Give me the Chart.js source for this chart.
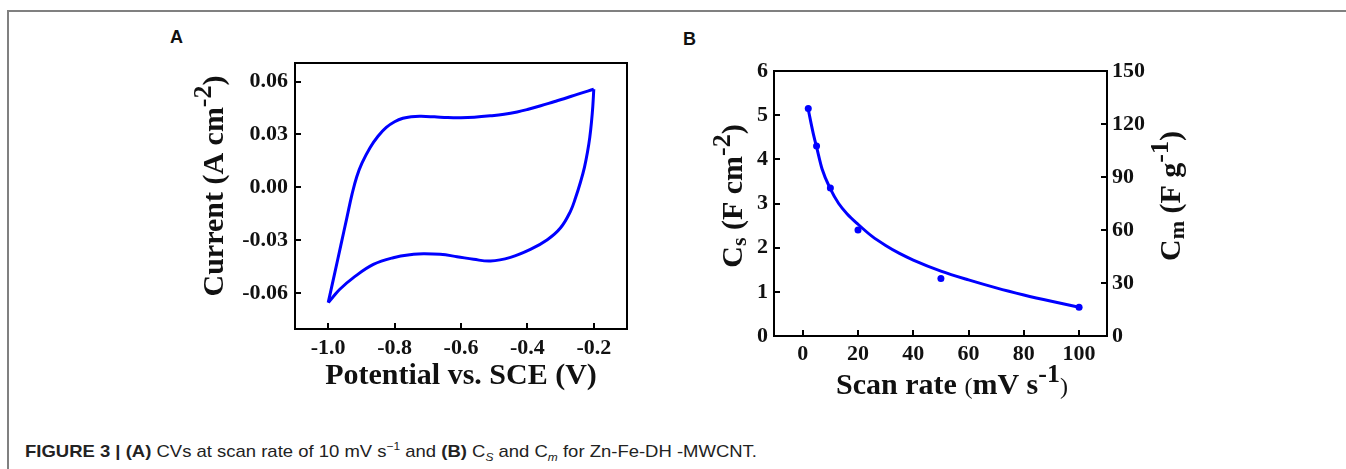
<!DOCTYPE html>
<html>
<head>
<meta charset="utf-8">
<script src="https://cdn.jsdelivr.net/npm/chart.js@4.4.1/dist/chart.umd.min.js"></script>
<style>
  html, body { margin:0; padding:0; background:#fff; }
  body { width:1346px; height:469px; position:relative; overflow:hidden; }
  #frame { position:absolute; left:7px; top:10px; width:1400px; height:500px;
           border-top:2px solid #808080; border-left:2px solid #808080; }
  .plab { position:absolute; font:bold 18px 'Liberation Sans', Arial, sans-serif; line-height:18px; color:#111; }
  #cvA { position:absolute; left:160px; top:40px; }
  #cvB { position:absolute; left:680px; top:40px; }
  #cap { position:absolute; left:25px; top:443px; white-space:nowrap; transform-origin:0 0;
         font:17px 'Liberation Sans Narrow', 'Liberation Sans', Arial, sans-serif; line-height:17px; color:#222; }
  #cap sup, #cap sub { font-size:11px; line-height:0; }
</style>
</head>
<body>
<div id="frame"></div>
<div class="plab" style="left:170px;top:28px;">A</div>
<div class="plab" style="left:683px;top:30px;">B</div>
<canvas id="cvA" width="480" height="360"></canvas>
<canvas id="cvB" width="520" height="370"></canvas>
<div id="cap"><b>FIGURE 3 | (A)</b> CVs at scan rate of 10 mV s<sup>−1</sup> and <b>(B)</b> C<sub><i>S</i></sub> and C<sub><i>m</i></sub> for Zn-Fe-DH -MWCNT.</div>
<script>
// ---------- Panel A data (cyclic voltammogram) ----------
const anodicV = [-1.000,-0.980,-0.962,-0.944,-0.928,-0.914,-0.898,-0.874,-0.850,-0.825,-0.800,-0.775,-0.750,-0.720,-0.680,-0.640,-0.600,-0.560,-0.511,-0.470,-0.431,-0.400,-0.360,-0.320,-0.290,-0.250,-0.200];
const anodicI = [-0.0655,-0.0485,-0.0330,-0.0175,-0.0038,0.0060,0.0138,0.0225,0.0290,0.0340,0.0372,0.0392,0.0401,0.0403,0.0400,0.0396,0.0395,0.0398,0.0406,0.0415,0.0428,0.0442,0.0463,0.0486,0.0503,0.0528,0.0557];
const cathodicV = [-0.200,-0.203,-0.207,-0.212,-0.219,-0.228,-0.240,-0.255,-0.270,-0.300,-0.340,-0.391,-0.451,-0.511,-0.562,-0.612,-0.663,-0.713,-0.743,-0.804,-0.864,-0.924,-0.965,-0.985,-1.000];
const cathodicI = [0.0557,0.0460,0.0370,0.0285,0.0200,0.0115,0.0030,-0.0060,-0.0135,-0.0230,-0.0298,-0.0353,-0.0398,-0.0419,-0.0409,-0.0394,-0.0381,-0.0378,-0.0381,-0.0400,-0.0438,-0.0513,-0.0579,-0.0622,-0.0655];
const cvXTicks = [-1.0,-0.8,-0.6,-0.4,-0.2];
const cvXTickLabels = ['-1.0','-0.8','-0.6','-0.4','-0.2'];
const cvYTicks = [-0.06,-0.03,0,0.03,0.06];
const cvYTickLabels = ['-0.06','-0.03','0.00','0.03','0.06'];
const cvXTitle = [['Potential vs. SCE (V)','']];
const cvYTitle = [['Current (A cm',''],['-2','sup'],[')','']];

// ---------- Panel B data ----------
const scanRate = [2,5,10,20,50,100];
const csValues = [5.15,4.30,3.35,2.40,1.30,0.65];
const fitRate = [2,3,4,5,7,10,13,16,20,25,30,35,40,50,60,70,80,90,100];
const fitCs = [5.13,4.82,4.53,4.28,3.78,3.33,3.00,2.77,2.53,2.26,2.05,1.87,1.72,1.47,1.27,1.09,0.93,0.785,0.65];
const rateTicks = [0,20,40,60,80,100];
const rateTickLabels = ['0','20','40','60','80','100'];
const csTicks = [0,1,2,3,4,5,6];
const csTickLabels = ['0','1','2','3','4','5','6'];
const cmTicks = [0,30,60,90,120,150];
const cmTickLabels = ['0','30','60','90','120','150'];
const rateTitle = [['Scan rate ',''],['(','small'],['mV s',''],['-1','sup'],[')','small']];
const csTitle = [['C',''],['s','sub'],[' (F cm',''],['-2','sup'],[')','']];
const cmTitle = [['C',''],['m','sub'],[' (F g',''],['-1','sup'],[')','']];

const BLUE = '#0000ff';
const SERIF = "'Liberation Serif', 'Times New Roman', serif";

function zip(xs, ys){ return xs.map((x,i)=>({x:x, y:ys[i]})); }

const frameTicks = {
  id:'frameTicks',
  afterDraw(chart){
    const ctx = chart.ctx, ca = chart.chartArea;
    ctx.save();
    ctx.strokeStyle = '#000';
    ctx.lineWidth = 2;
    Object.values(chart.scales).forEach(s=>{
      s.ticks.forEach(t=>{
        const p = Math.round(s.getPixelForValue(t.value));
        ctx.beginPath();
        if (s.position === 'bottom'){ ctx.moveTo(p, ca.bottom); ctx.lineTo(p, ca.bottom-6); }
        else if (s.position === 'left'){ ctx.moveTo(ca.left, p); ctx.lineTo(ca.left+6, p); }
        else if (s.position === 'right'){ ctx.moveTo(ca.right, p); ctx.lineTo(ca.right-6, p); }
        ctx.stroke();
      });
    });
    ctx.strokeRect(ca.left, ca.top, ca.right-ca.left, ca.bottom-ca.top);
    ctx.restore();
  }
};

// rich axis titles (superscripts / subscripts)
const BASE = 30;
function partFont(kind){
  if (kind === 'sup') return 'bold 26px ' + SERIF;
  if (kind === 'sub') return 'bold 22px ' + SERIF;
  if (kind === 'small') return '24px ' + SERIF;
  return 'bold ' + BASE + 'px ' + SERIF;
}
function drawRich(ctx, parts, cx, cy, vertical){
  ctx.save();
  ctx.fillStyle = '#111';
  ctx.textAlign = 'left';
  ctx.textBaseline = 'alphabetic';
  let total = 0;
  const widths = parts.map(p=>{ ctx.font = partFont(p[1]); const w = ctx.measureText(p[0]).width; total += w; return w; });
  ctx.translate(cx, cy);
  if (vertical) ctx.rotate(-Math.PI/2);
  let x = -total/2;
  const bl = BASE*0.33;
  parts.forEach((p,i)=>{
    ctx.font = partFont(p[1]);
    const dy = p[1]==='sup' ? -BASE*0.40 : (p[1]==='sub' ? BASE*0.14 : 0);
    ctx.fillText(p[0], x, bl+dy);
    x += widths[i];
  });
  ctx.restore();
}
function titlesPlugin(list){
  return { id:'richTitles', afterDraw(chart){ list.forEach(t=>drawRich(chart.ctx, t.parts, t.x, t.y, t.v)); } };
}

function fixedTicks(values){
  return (s)=>{ s.ticks = values.map(v=>({value:v})); };
}
function tickFont(){ return {family:SERIF, size:22, weight:'bold'}; }

// ---------- Chart A ----------
new Chart(document.getElementById('cvA'), {
  type:'scatter',
  data:{ datasets:[
    { data: zip(anodicV, anodicI), showLine:true, borderColor:BLUE, borderWidth:3, pointRadius:0, tension:0.4, fill:false },
    { data: zip(cathodicV, cathodicI), showLine:true, borderColor:BLUE, borderWidth:3, pointRadius:0, tension:0.4, fill:false }
  ]},
  options:{
    responsive:false, animation:false, devicePixelRatio:1,
    layout:{ padding:{left:0, top:23, right:13, bottom:0} },
    plugins:{ legend:{display:false}, tooltip:{enabled:false} },
    scales:{
      x:{ type:'linear', position:'bottom', min:-1.1, max:-0.1,
          grid:{display:false, drawTicks:false}, border:{display:false},
          afterBuildTicks: fixedTicks(cvXTicks),
          afterFit:(s)=>{ s.height = 71; },
          ticks:{ color:'#111', font:tickFont(), padding:6, maxRotation:0, autoSkip:false,
                  callback:(v,i)=>cvXTickLabels[i] } },
      y:{ type:'linear', position:'left', min:-0.0805, max:0.0706,
          grid:{display:false, drawTicks:false}, border:{display:false},
          afterBuildTicks: fixedTicks(cvYTicks),
          afterFit:(s)=>{ s.width = 135; },
          ticks:{ color:'#111', font:tickFont(), padding:7, autoSkip:false,
                  callback:(v,i)=>cvYTickLabels[i] } }
    }
  },
  plugins:[frameTicks, titlesPlugin([
    {parts:cvXTitle, x:301, y:334, v:false},
    {parts:cvYTitle, x:53, y:146, v:true}
  ])]
});

// ---------- Chart B ----------
new Chart(document.getElementById('cvB'), {
  type:'scatter',
  data:{ datasets:[
    { data: zip(fitRate, fitCs), showLine:true, borderColor:BLUE, borderWidth:3, pointRadius:0,
      cubicInterpolationMode:'monotone', fill:false, yAxisID:'y' },
    { data: zip(scanRate, csValues), showLine:false, backgroundColor:BLUE, borderColor:BLUE,
      pointRadius:3.5, borderWidth:0, yAxisID:'y' }
  ]},
  options:{
    responsive:false, animation:false, devicePixelRatio:1,
    layout:{ padding:{left:0, top:31, right:0, bottom:0} },
    plugins:{ legend:{display:false}, tooltip:{enabled:false} },
    scales:{
      x:{ type:'linear', position:'bottom', min:-10.4, max:110.1,
          grid:{display:false, drawTicks:false}, border:{display:false},
          afterBuildTicks: fixedTicks(rateTicks),
          afterFit:(s)=>{ s.height = 74; },
          ticks:{ color:'#111', font:tickFont(), padding:5, maxRotation:0, autoSkip:false,
                  callback:(v,i)=>rateTickLabels[i] } },
      y:{ type:'linear', position:'left', min:0, max:6,
          grid:{display:false, drawTicks:false}, border:{display:false},
          afterBuildTicks: fixedTicks(csTicks),
          afterFit:(s)=>{ s.width = 94; },
          ticks:{ color:'#111', font:tickFont(), padding:6, autoSkip:false,
                  callback:(v,i)=>csTickLabels[i] } },
      y1:{ type:'linear', position:'right', min:0, max:150,
          grid:{display:false, drawTicks:false}, border:{display:false},
          afterBuildTicks: fixedTicks(cmTicks),
          afterFit:(s)=>{ s.width = 93; },
          ticks:{ color:'#111', font:tickFont(), padding:5, autoSkip:false,
                  callback:(v,i)=>cmTickLabels[i] } }
    }
  },
  plugins:[frameTicks, titlesPlugin([
    {parts:rateTitle, x:272, y:344, v:false},
    {parts:csTitle, x:52, y:156, v:true},
    {parts:cmTitle, x:490, y:156, v:true}
  ])]
});

// fit caption width to the reference span
(function(){
  const cap = document.getElementById('cap');
  const w = cap.getBoundingClientRect().width;
  cap.style.transform = 'scaleX(' + (732 / w) + ')';
})();
</script>
</body>
</html>
